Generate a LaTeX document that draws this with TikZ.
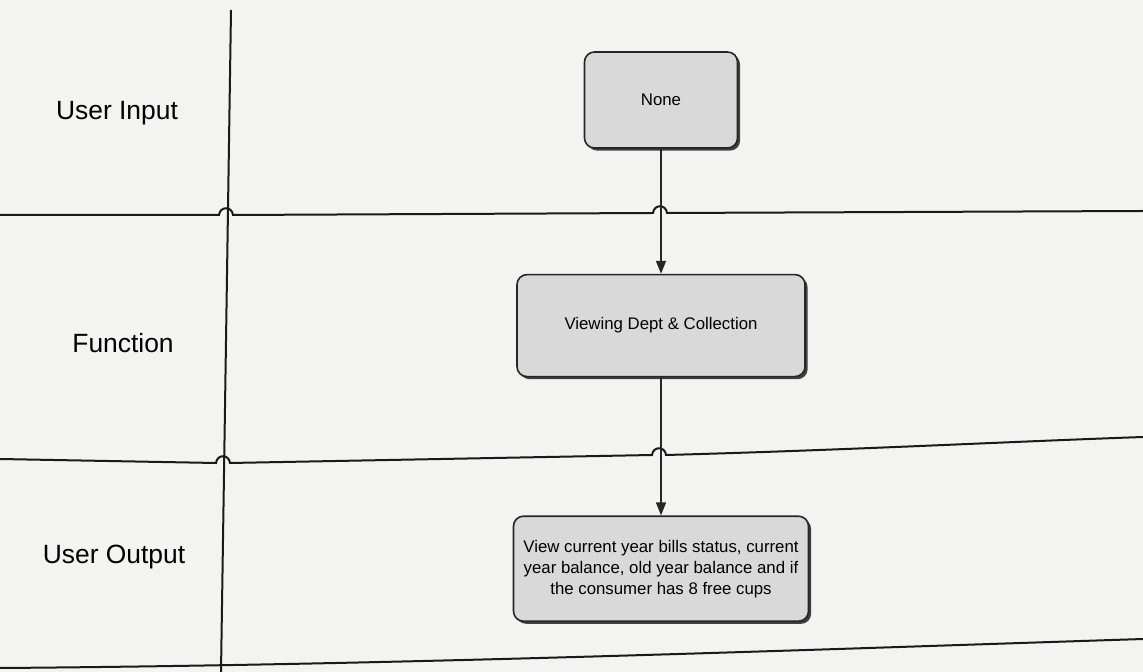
\documentclass[tikz,border=0pt]{standalone}
\usepackage{fontspec}
\setmainfont{Liberation Sans}
\usetikzlibrary{arrows.meta,positioning,shadows}

\begin{document}
\begin{tikzpicture}[x=0.5pt,y=-0.5pt,>={Triangle[length=6.5pt,width=5pt]},
    act/.style={draw=black!85,line width=0.8pt,rounded corners=5pt,fill=black!15,
      drop shadow={shadow xshift=1.3pt,shadow yshift=-1.3pt,fill=black!75,opacity=1},
      font=\fontsize{8.4}{10.5}\selectfont,align=center,inner sep=2pt},
    lanename/.style={font=\fontsize{13.2}{16}\selectfont},
    lane/.style={line width=1pt,black!90},
    node distance=62.5pt]
  \useasboundingbox[fill={rgb,255:red,243;green,243;blue,241}] (0,0) rectangle (1143,672);

  % lanes
  \draw[lane] (231,10) -- (221,672);
  \draw[lane] (0,215) -- (219,215) .. controls (220,206) and (232,206) .. (233,215)
    -- (653,213) .. controls (654,204) and (666,204) .. (667,213) -- (1143,211);
  \draw[lane] (0,459) -- (216,463) .. controls (217,454) and (229,454) .. (230,463)
    -- (652,455) .. controls (653,446) and (665,446) .. (666,455)
    .. controls (850,450) and (1000,442) .. (1143,437);
  \draw[lane] (0,668) .. controls (400,665) and (800,650) .. (1143,639);

  \node[lanename] (inp)  at (117,113) {User Input};
  \node[lanename] (func) at (123,343) {Function};
  \node[lanename] (outp) at (114,557) {User Output};

  % activities
  \node[act,minimum width=76.5pt,minimum height=48pt] (none) at (661,100) {None};
  \node[act,minimum width=144pt,minimum height=51pt] (view) [below=of none]
    {Viewing Dept \& Collection};
  \node[act,minimum width=147.5pt,minimum height=52.5pt] (show) [below=69pt of view]
    {View current year bills status, current\\year balance, old year balance and if\\the consumer has 8 free cups};

  \path[->,line width=0.75pt,black!85]
    (none) edge (view)
    (view) edge (show);
\end{tikzpicture}
\end{document}
